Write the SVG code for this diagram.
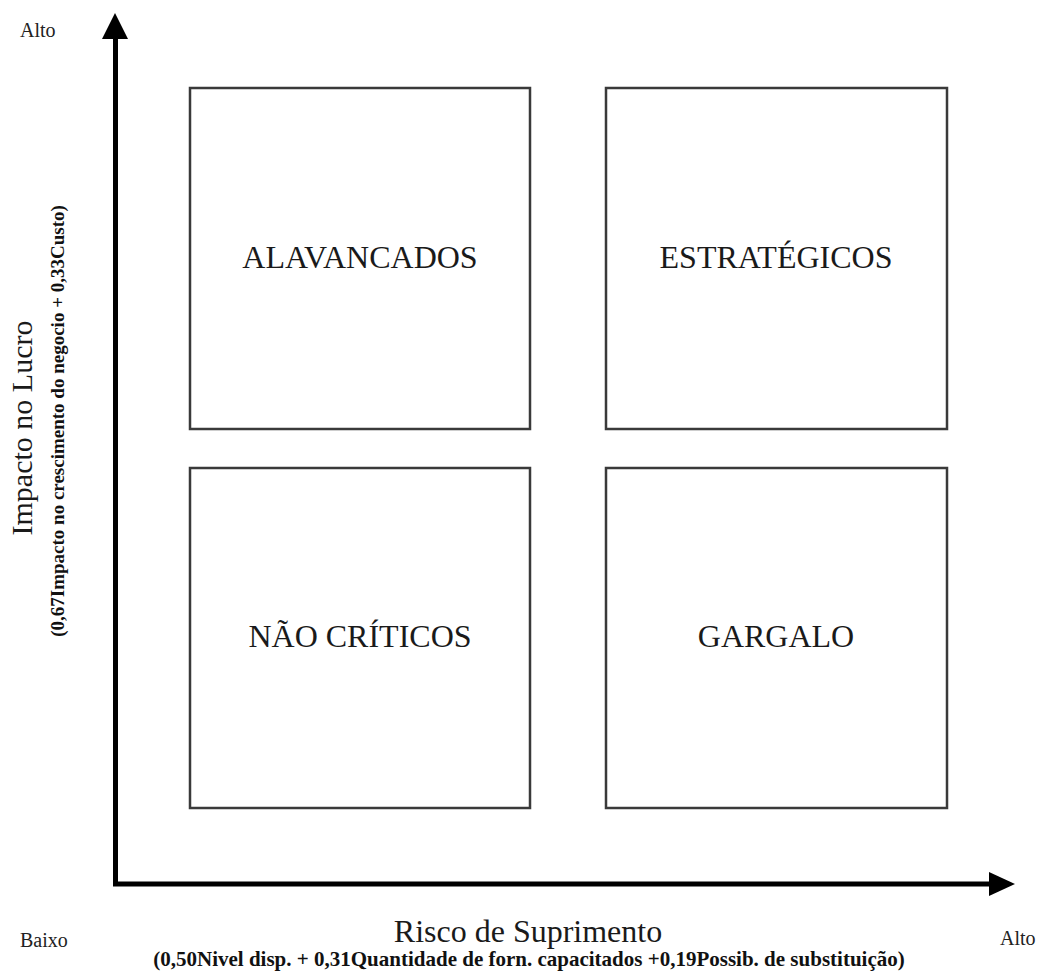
<svg xmlns="http://www.w3.org/2000/svg" width="1042" height="974" viewBox="0 0 1042 974">
<style>
.box{fill:#fff;stroke:#3a3a3a;stroke-width:2.5}
.lbl{font-family:"Liberation Serif",serif;font-size:32px;fill:#1a1a1a;text-anchor:middle}
.axt{font-family:"Liberation Serif",serif;font-size:30px;fill:#1a1a1a;text-anchor:middle}
.sub{font-family:"Liberation Serif",serif;font-size:19px;font-weight:bold;fill:#111;text-anchor:middle}
.end{font-family:"Liberation Serif",serif;font-size:20px;fill:#222}
.axis{stroke:#000;stroke-width:5;fill:none}
</style>
<rect width="1042" height="974" fill="#fff"/>
<g id="connectors">
<path class="axis" d="M115.5,886 V36"/>
<polygon points="115,13 102,39 128,39" fill="#000"/>
<path class="axis" d="M113,884 H991"/>
<polygon points="1015,884 989,872 989,896" fill="#000"/>
</g>
<g id="alavancados"><rect class="box" x="190" y="88" width="340" height="341"/><text class="lbl" x="360" y="268">ALAVANCADOS</text></g>
<g id="estrategicos"><rect class="box" x="606" y="88" width="341" height="341"/><text class="lbl" x="776" y="268">ESTRATÉGICOS</text></g>
<g id="nao-criticos"><rect class="box" x="190" y="468" width="340" height="340"/><text class="lbl" x="360" y="647">NÃO CRÍTICOS</text></g>
<g id="gargalo"><rect class="box" x="606" y="468" width="341" height="340"/><text class="lbl" x="776" y="647">GARGALO</text></g>
<g id="y-axis-labels">
<text class="end" x="20" y="37">Alto</text>
<text class="axt" transform="translate(32,428) rotate(-90)">Impacto no Lucro</text>
<text class="sub" transform="translate(64,421) rotate(-90)">(0,67Impacto no crescimento do negocio + 0,33Custo)</text>
</g>
<g id="x-axis-labels">
<text class="end" x="20" y="947">Baixo</text>
<text class="end" x="1000" y="945">Alto</text>
<text class="axt" x="528" y="942" style="font-size:32px">Risco de Suprimento</text>
<text class="sub" x="529" y="966" style="font-size:21px">(0,50Nivel disp. + 0,31Quantidade de forn. capacitados +0,19Possib. de substituição)</text>
</g>
</svg>
